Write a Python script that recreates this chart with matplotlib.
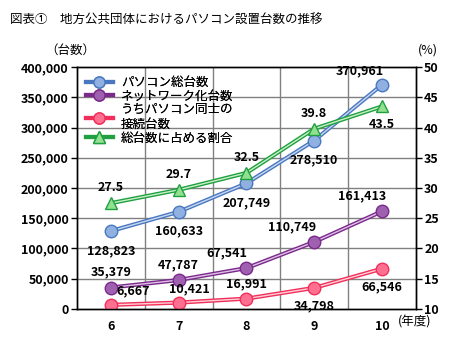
import matplotlib.pyplot as plt
from matplotlib.lines import Line2D

plt.rcParams['font.family'] = ['Noto Sans CJK JP', 'DejaVu Sans']

years = ['6', '7', '8', '9', '10']
total = [128823, 160633, 207749, 278510, 370961]
network = [35379, 47787, 67541, 110749, 161413]
connected = [6667, 10421, 16991, 34798, 66546]
ratio = [27.5, 29.7, 32.5, 39.8, 43.5]

x = list(range(len(years)))

fig = plt.figure(figsize=(4.58, 3.63), dpi=100)
ax = fig.add_axes([0.168, 0.149, 0.740, 0.666])
ax2 = ax.twinx()

ax.set_xlim(-0.5, 4.5)
ax.set_ylim(0, 400000)
ax2.set_ylim(10, 50)

# grid: horizontal at every 50,000, vertical between categories
for v in range(50000, 400000, 50000):
    ax.axhline(v, color='#808080', lw=1, zorder=0)
for b in [0.5, 1.5, 2.5, 3.5]:
    ax.axvline(b, color='#808080', lw=1, zorder=0)


def double_line(a, xs, ys, dark, light, marker, mface, label):
    a.plot(xs, ys, color=dark, lw=3, zorder=3, solid_capstyle='butt')
    a.plot(xs, ys, color=light, lw=1, zorder=4)
    a.plot(xs, ys, ls='none', marker=marker, ms=9, mfc=mface, mec=dark,
           mew=1, zorder=5)
    return Line2D([0], [0], color=dark, lw=3, marker=marker, ms=8,
                  mfc=mface, mec=dark, label=label)


h1 = double_line(ax, x, total, '#4a78c0', '#c8d8f0', 'o', '#8fb0e0', 'パソコン総台数')
h2 = double_line(ax, x, network, '#7a2a8a', '#e0c0e8', 'o', '#a060b0', 'ネットワーク化台数')
h3 = double_line(ax, x, connected, '#f0305a', '#ffd0d8', 'o', '#ff7090', 'うちパソコン同士の\n接続台数')
h4 = double_line(ax2, x, ratio, '#20a040', '#c8f0c8', '^', '#90e090', '総台数に占める割合')

fs = 9
bold = dict(fontsize=fs, fontweight='bold')

# labels: (series, axis, offsets)
tot_off = [(0, -14), (0, -14), (0, -14), (0, -14), (-16, 10)]
for i, v in enumerate(total):
    dx, dy = tot_off[i]
    ax.annotate(f'{v:,}', (x[i], v), xytext=(dx, dy), textcoords='offset points',
                ha='center', va='center', **bold, zorder=6)
net_off = [(0, 11), (0, 11), (-14, 11), (-16, 11), (-14, 11)]
for i, v in enumerate(network):
    dx, dy = net_off[i]
    ax.annotate(f'{v:,}', (x[i], v), xytext=(dx, dy), textcoords='offset points',
                ha='center', va='center', **bold, zorder=6)
con_off = [(16, 10), (8, 10), (0, 11), (0, -13), (0, -13)]
for i, v in enumerate(connected):
    dx, dy = con_off[i]
    ax.annotate(f'{v:,}', (x[i], v), xytext=(dx, dy), textcoords='offset points',
                ha='center', va='center', **bold, zorder=6)
rat_off = [(0, 11), (0, 11), (0, 11), (0, 11), (0, -13)]
for i, v in enumerate(ratio):
    dx, dy = rat_off[i]
    ax2.annotate(f'{v}', (x[i], v), xytext=(dx, dy), textcoords='offset points',
                 ha='center', va='center', **bold, zorder=6)

ax.set_xticks(x)
ax.set_xticklabels(years, fontsize=fs, fontweight='bold')
ax.set_yticks(range(0, 400001, 50000))
ax.set_yticklabels([f'{v:,}' for v in range(0, 400001, 50000)], fontsize=fs, fontweight='bold')
ax2.set_yticks(range(10, 51, 5))
ax2.set_yticklabels([str(v) for v in range(10, 51, 5)], fontsize=fs, fontweight='bold')
ax.tick_params(axis='x', length=0, pad=8)
ax.tick_params(axis='y', length=4, width=1, direction='out', pad=2)
ax2.tick_params(axis='y', length=4, width=1, direction='out', pad=2)
for a in (ax, ax2):
    for s in a.spines.values():
        s.set_linewidth(1)
        s.set_color('black')

ax2.set_zorder(ax.get_zorder() + 1)
ax2.patch.set_visible(False)

leg = ax.legend(handles=[h1, h2, h3, h4], loc='upper left', bbox_to_anchor=(0.0, 1.0),
                frameon=False, fontsize=fs, handlelength=2.2, handletextpad=0.6,
                labelspacing=0.05, borderaxespad=0.3)
ax.add_artist(leg)
leg.set_zorder(10)

fig.text(0.022, 0.945, '図表①　地方公共団体におけるパソコン設置台数の推移', fontsize=fs, va='center')
fig.text(0.098, 0.862, '（台数）', fontsize=fs, va='center')
fig.text(0.912, 0.862, '(%)', fontsize=fs, va='center')
fig.text(0.868, 0.112, '(年度)', fontsize=fs, va='center')

fig.savefig('out.png', dpi=100)
